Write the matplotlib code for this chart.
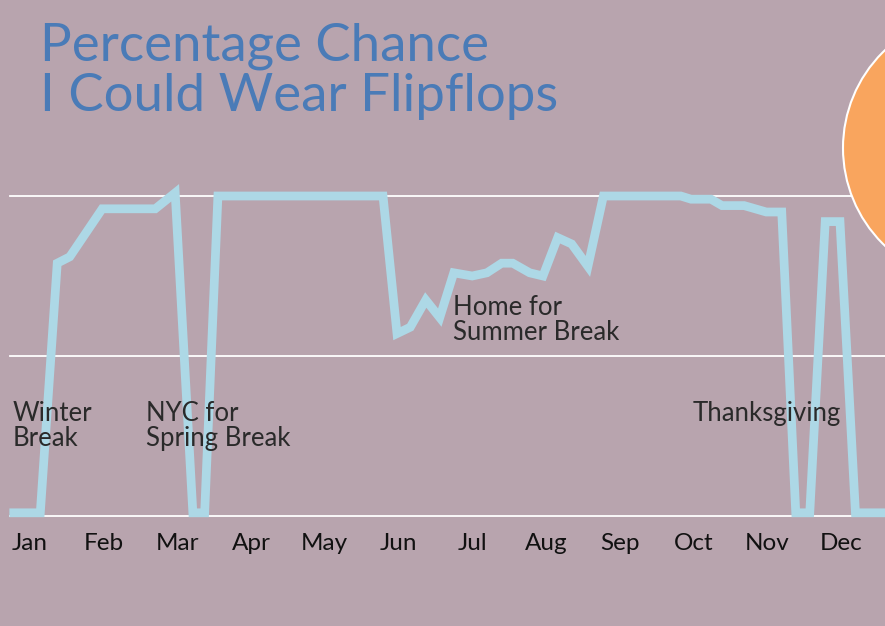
import matplotlib.pyplot as plt
from matplotlib.patches import Circle

# month positions (Jan = 0) and percentage chance
x = [-0.22, 0.14, 0.37, 0.54, 0.98, 1.70, 1.97, 2.21, 2.37, 2.55,
     4.79, 4.98, 5.16, 5.37, 5.56, 5.75, 6.00, 6.20, 6.40, 6.55,
     6.78, 6.96, 7.16, 7.35, 7.57, 7.78, 8.83, 8.97, 9.24, 9.39,
     9.69, 9.99, 10.20, 10.39, 10.58, 10.79, 10.99, 11.20, 11.60]
y = [1, 1, 79, 81, 96, 96, 101, 1, 1, 100,
     100, 57, 59, 67.5, 62, 76, 75, 76, 79, 79,
     76, 75, 87, 85, 78, 100, 100, 99, 99, 97,
     97, 95, 95, 1, 1, 92, 92, 1, 1]
months = ['Jan', 'Feb', 'Mar', 'Apr', 'May', 'Jun',
          'Jul', 'Aug', 'Sep', 'Oct', 'Nov', 'Dec']
notes = ['Winter\nBreak', 'NYC for\nSpring Break', 'Home for\nSummer Break', 'Thanksgiving']
note_x = [-0.23, 1.58, 5.74, 8.99]
note_y = [36, 36, 69, 36]

BG = '#b8a4ae'
FONT = ['Lato', 'DejaVu Sans']

fig = plt.figure(figsize=(8.85, 6.26), dpi=100, facecolor=BG)
ax = fig.add_axes([10 / 885, 110 / 626, 875 / 885, 320 / 626])
ax.set_facecolor(BG)
ax.set_xlim(-0.271, 11.601)
ax.set_ylim(0, 100)

for g in [0, 50, 100]:
    ax.axhline(g, color='white', lw=1.3, zorder=1, clip_on=False)

ax.plot(x, y, color='#add8e6', lw=6.3, solid_joinstyle='miter', zorder=3, clip_on=False)

for s in ax.spines.values():
    s.set_visible(False)
ax.set_yticks([])
ax.set_xticks(range(12))
ax.set_xticklabels(months, fontsize=17.5, color='#111111', family=FONT)
ax.tick_params(axis='x', length=0, pad=12)

for t, tx, ty in zip(notes, note_x, note_y):
    ax.text(tx, ty, t, fontsize=18.5, color='#2a2a2a', family=FONT,
            va='top', ha='left', linespacing=1.0, zorder=4)

fig.text(40 / 885, 1 - 22 / 626, 'Percentage Chance\nI Could Wear Flipflops',
         fontsize=38, color='#4a7bb7', family=FONT, fontweight='normal',
         va='top', ha='left', linespacing=1.1)

circ = Circle((9.78, 4.78), 1.35, transform=fig.dpi_scale_trans,
              facecolor='#f9a55e', edgecolor='white', lw=1.5, zorder=10)
fig.add_artist(circ)

fig.savefig('out.png', dpi=100, facecolor=BG)
